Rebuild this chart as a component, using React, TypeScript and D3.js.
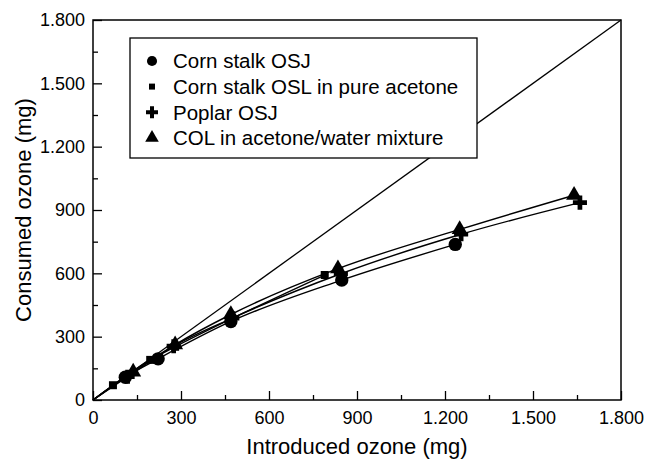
import React, { useEffect, useRef } from 'react';
import * as d3 from 'd3';

// values (mg)
const osjIntroduced = [110, 222, 470, 848, 1235];
const osjConsumed = [108, 195, 372, 568, 737];
const oslIntroduced = [68, 195, 280, 790];
const oslConsumed = [70, 190, 252, 592];
const poplarIntroduced = [118, 275, 475, 845, 1255, 1660];
const poplarConsumed = [110, 255, 388, 598, 785, 935];
const colIntroduced = [137, 280, 470, 835, 1250, 1640];
const colConsumed = [133, 262, 405, 622, 808, 970];

const seriesNames = ['Corn stalk OSJ', 'Corn stalk OSL in pure acetone', 'Poplar OSJ', 'COL in acetone/water mixture'];
const tickValues = [0, 300, 600, 900, 1200, 1500, 1800];
const minorTickValues = [150, 450, 750, 1050, 1350, 1650];
const axisMax = 1800;

const FONT = '"Liberation Sans", Arial, Helvetica, sans-serif';

const W = 645;
const H = 465;
const margin = { top: 20, right: 24, bottom: 65, left: 93 };

export default function App() {
  const svgRef = useRef<SVGSVGElement | null>(null);

  useEffect(() => {
    const innerW = W - margin.left - margin.right;
    const innerH = H - margin.top - margin.bottom;

    const root = d3.select(svgRef.current);
    root.selectAll('*').remove();

    const svg = root.append('g').attr('transform', `translate(${margin.left}, ${margin.top})`);

    const x = d3.scaleLinear().domain([0, axisMax]).range([0, innerW]);
    const y = d3.scaleLinear().domain([0, axisMax]).range([innerH, 0]);

    const locale = d3.formatLocale({ decimal: ',', thousands: '.', grouping: [3], currency: ['', ''] });
    const fmt = locale.format(',d');

    // y = x reference line (legend box covers part of it)
    svg.append('line')
      .attr('x1', x(0)).attr('y1', y(0))
      .attr('x2', x(axisMax)).attr('y2', y(axisMax))
      .attr('stroke', '#000').attr('stroke-width', 1.3);

    const series = [
      { xs: osjIntroduced, ys: osjConsumed, symbol: d3.symbolCircle, size: 140 },
      { xs: oslIntroduced, ys: oslConsumed, symbol: d3.symbolSquare, size: 64 },
      { xs: poplarIntroduced, ys: poplarConsumed, symbol: d3.symbolCross, size: 110 },
      { xs: colIntroduced, ys: colConsumed, symbol: d3.symbolTriangle, size: 110 },
    ];

    const line = d3.line<[number, number]>()
      .x(d => x(d[0]))
      .y(d => y(d[1]))
      .curve(d3.curveMonotoneX);

    series.forEach(s => {
      const pts: [number, number][] = [[0, 0], ...s.xs.map((v, i) => [v, s.ys[i]] as [number, number])];
      svg.append('path')
        .attr('d', line(pts))
        .attr('fill', 'none')
        .attr('stroke', '#000')
        .attr('stroke-width', 1.4);
    });

    series.forEach(s => {
      svg.append('g')
        .selectAll('path')
        .data(s.xs.map((v, i) => [v, s.ys[i]]))
        .enter()
        .append('path')
        .attr('transform', d => `translate(${x(d[0])}, ${y(d[1])})`)
        .attr('d', d3.symbol().type(s.symbol).size(s.size)())
        .attr('fill', '#000');
    });

    // frame
    svg.append('rect')
      .attr('x', 0).attr('y', 0)
      .attr('width', innerW).attr('height', innerH)
      .attr('fill', 'none')
      .attr('stroke', '#000')
      .attr('stroke-width', 1.5);

    // axes with inward ticks
    const xAxis = svg.append('g')
      .attr('transform', `translate(0, ${innerH})`)
      .call(d3.axisBottom(x).tickValues(tickValues).tickFormat(d => fmt(d as number)).tickSize(-9).tickPadding(8));
    xAxis.select('.domain').remove();

    svg.append('g')
      .attr('transform', `translate(0, ${innerH})`)
      .call(d3.axisBottom(x).tickValues(minorTickValues).tickFormat(() => '').tickSize(-5))
      .select('.domain').remove();

    const yAxis = svg.append('g')
      .call(d3.axisLeft(y).tickValues(tickValues).tickFormat(d => fmt(d as number)).tickSize(-9).tickPadding(8));
    yAxis.select('.domain').remove();

    svg.append('g')
      .call(d3.axisLeft(y).tickValues(minorTickValues).tickFormat(() => '').tickSize(-5))
      .select('.domain').remove();

    svg.selectAll('.tick line').attr('stroke', '#000').attr('stroke-width', 1.3);
    svg.selectAll('.tick text')
      .attr('fill', '#000')
      .style('font-family', FONT)
      .style('font-size', '18px');
    xAxis.selectAll('.tick text').attr('dy', '0.9em');

    // axis titles
    svg.append('text')
      .attr('x', innerW / 2)
      .attr('y', innerH + 54)
      .attr('text-anchor', 'middle')
      .style('font-family', FONT)
      .style('font-size', '22px')
      .text('Introduced ozone (mg)');

    svg.append('text')
      .attr('transform', `translate(${-62}, ${innerH / 2}) rotate(-90)`)
      .attr('text-anchor', 'middle')
      .style('font-family', FONT)
      .style('font-size', '22px')
      .text('Consumed ozone (mg)');

    // legend
    const legend = svg.append('g').attr('transform', `translate(${130 - margin.left}, ${38 - margin.top})`);
    legend.append('rect')
      .attr('width', 347).attr('height', 120)
      .attr('fill', '#fff')
      .attr('stroke', '#000')
      .attr('stroke-width', 1.3);

    seriesNames.forEach((name, i) => {
      const cy = 23 + i * 25.6;
      legend.append('path')
        .attr('transform', `translate(22, ${cy})`)
        .attr('d', d3.symbol().type(series[i].symbol).size(i === 1 ? 36 : 80)())
        .attr('fill', '#000');
      legend.append('text')
        .attr('x', 43)
        .attr('y', cy)
        .attr('dy', '0.36em')
        .style('font-family', FONT)
        .style('font-size', '20.5px')
        .text(name);
    });
  }, []);

  return (
    <div style={{ position: 'absolute', left: 0, top: 0, background: '#fff' }}>
      <svg ref={svgRef} width={W} height={H} style={{ display: 'block' }} />
    </div>
  );
}
